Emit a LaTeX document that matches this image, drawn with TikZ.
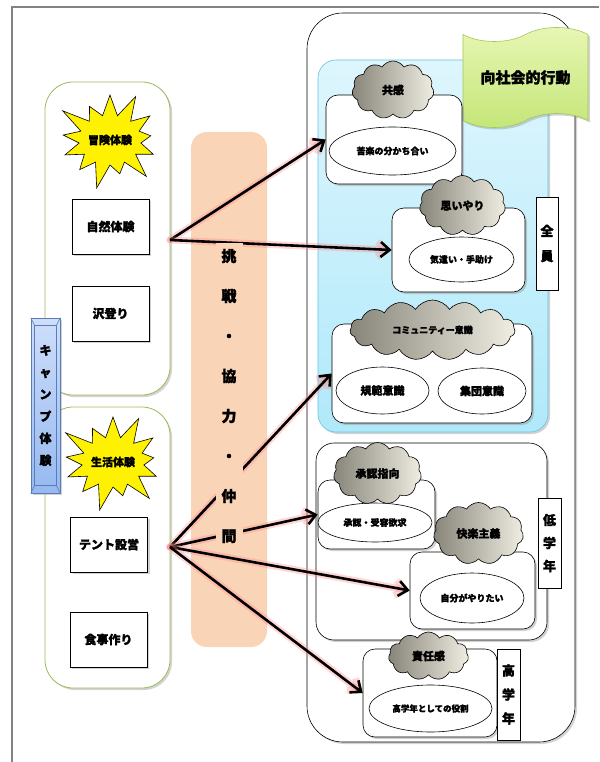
\documentclass[tikz,border=0pt]{standalone}
\usepackage{fontspec}
\newfontfamily\jp{Noto Sans CJK JP}[BoldFeatures={FakeBold=1.6}]
\usetikzlibrary{shapes.geometric, shapes.symbols, arrows.meta, shadows, calc, positioning}

\definecolor{peach}{RGB}{250,212,182}
\definecolor{grpgreen}{RGB}{155,187,89}
\definecolor{skytop}{RGB}{222,246,253}
\definecolor{skybot}{RGB}{176,233,250}
\definecolor{skyedge}{RGB}{100,195,228}
\definecolor{tapetop}{RGB}{232,246,180}
\definecolor{tapebot}{RGB}{196,230,120}
\definecolor{tapeedge}{RGB}{160,200,90}
\definecolor{camptop}{RGB}{205,222,250}
\definecolor{campbot}{RGB}{150,185,240}
\definecolor{campedge}{RGB}{90,125,185}
\definecolor{puffdark}{RGB}{135,133,122}
\definecolor{pufflight}{RGB}{240,238,226}
\definecolor{framegray}{RGB}{130,130,130}

\newcommand{\jpf}[1]{\jp\bfseries\fontsize{#1}{#1}\selectfont}
\newcommand{\jpv}[2]{\jp\bfseries\fontsize{#1}{#2}\selectfont}

\begin{document}
\begin{tikzpicture}[x=1pt, y=-1pt,
    shade/.style={drop shadow={opacity=0.35, shadow xshift=2pt, shadow yshift=-2pt}},
    grp/.style={rectangle, rounded corners=28pt, draw=grpgreen, line width=0.8pt, fill=white, shade, minimum width=125pt},
    act/.style={rectangle, draw, line width=0.8pt, fill=white, shade, minimum width=77pt, minimum height=55pt, font=\jpf{12}},
    burst/.style={starburst, starburst points=13, starburst point height=28pt, draw, line width=0.6pt, fill=yellow, font=\jpf{11}, inner sep=0pt, minimum width=100pt, minimum height=106pt},
    frame/.style={rectangle, rounded corners=12pt, draw, line width=0.6pt, fill=white, shade},
    puff/.style={cloud, cloud puffs=11, cloud puff arc=115, cloud ignores aspect, draw, line width=0.6pt, left color=puffdark, right color=pufflight, inner sep=0pt},
    oval/.style={ellipse, draw, line width=0.6pt, fill=white, inner sep=0pt},
    tag/.style={rectangle, draw, line width=0.6pt, fill=white, align=center, inner sep=0pt},
    link/.style={-{Straight Barb[length=9pt, width=15pt]}, line width=2.6pt, preaction={draw=red!45, line width=7pt, opacity=0.35, line cap=round}}
]
\useasboundingbox (0,0) rectangle (599,762);

% page frame
\draw[framegray, line width=1.5pt] (12,762) -- (12,7) -- (599,7);

% camp activities
\node[grp, minimum height=313pt] (grpA) at (107.5,238.5) {};
\node[grp, minimum height=281pt] (grpB) at (107.5,547.5) {};
\node[burst] (adv) at (110,140) {冒険体験};
\node[burst] (life) at (113,462) {生活体験};
\node[act] (nature) at (110.5,226.5) {自然体験};
\node[act] (stream) at (110.5,313.5) {沢登り};
\node[act] (tent) at (109,544.5) {テント設営};
\node[act] (meal) at (108.5,639.5) {食事作り};

% camp label
\node[rectangle, draw=campedge, line width=0.6pt, top color=camptop, bottom color=campbot, shade,
      minimum width=29pt, minimum height=175pt, inner sep=0pt] (camp) at (45.5,405.5) {};
\draw[campedge, line width=0.5pt] ($(camp.north west)+(4,8)$) rectangle ($(camp.south east)+(-4,-8)$);
\draw[campedge, line width=0.5pt] (camp.north west) -- ++(4,8) (camp.north east) -- ++(-4,8)
    (camp.south west) -- ++(4,-8) (camp.south east) -- ++(-4,-8);
\node[align=center, font=\jpv{12}{22}] (campText) at (camp.center) {キ\\ャ\\ン\\プ\\体\\験};

% middle band
\node[rectangle, rounded corners=16pt, fill=peach, minimum width=76pt, minimum height=515pt] (band) at (229,389.5) {};

% prosocial behaviour
\node[rectangle, rounded corners=36pt, draw, line width=0.6pt, fill=white, shade,
      minimum width=268pt, minimum height=729pt] (social) at (441,377.5) {};
\node[rectangle, rounded corners=18pt, draw=skyedge, line width=0.6pt, top color=skytop, bottom color=skybot, shade,
      minimum width=230pt, minimum height=372pt] (allArea) at (433,246) {};
\node[tape, tape bend height=14pt, draw=tapeedge, line width=0.6pt, top color=tapetop, bottom color=tapebot, shade,
      minimum width=125pt, minimum height=100pt, font=\jpf{15}] (title) at (525.5,77.5) {向社会的行動};
\node[tag, minimum width=22pt, minimum height=93pt, font=\jpv{13}{25}] (allTag) at (547,243.5) {全\\員};

\node[frame, minimum width=136pt, minimum height=89pt] (empBox) at (394,139.5) {};
\node[oval, minimum width=127pt, minimum height=48pt, font=\jpf{9}] (empOval) at (392.5,151) {苦楽の分かち合い};
\node[puff, minimum width=82pt, minimum height=58pt, font=\jpf{11}] (empPuff) at (393,90) {共感};

\node[frame, minimum width=133pt, minimum height=84pt] (careBox) at (458.5,250) {};
\node[oval, minimum width=105pt, minimum height=45pt, font=\jpf{9}] (careOval) at (461.5,259.5) {気遣い・手助け};
\node[puff, minimum width=86pt, minimum height=60pt, font=\jpf{11}] (carePuff) at (462.5,205.5) {思いやり};

\node[frame, minimum width=200pt, minimum height=99pt] (comBox) at (432,373.5) {};
\node[oval, minimum width=93pt, minimum height=47pt, font=\jpf{11}] (normOval) at (382.5,390.5) {規範意識};
\node[oval, minimum width=88pt, minimum height=46pt, font=\jpf{11}] (teamOval) at (482,391) {集団意識};
\node[puff, cloud puffs=15, minimum width=165pt, minimum height=60pt, font=\jpf{9}] (comPuff) at (432.5,330) {コミュニティー意識};

\node[rectangle, rounded corners=18pt, draw, line width=0.6pt, fill=white, shade,
      minimum width=231pt, minimum height=197pt] (lowArea) at (431.5,541.5) {};
\node[tag, minimum width=23pt, minimum height=90pt, font=\jpv{13}{23}] (lowTag) at (549.5,543) {低\\学\\年};

\node[frame, minimum width=117pt, minimum height=69pt] (apprBox) at (376.5,514.5) {};
\node[oval, minimum width=114pt, minimum height=39pt, font=\jpf{9}] (apprOval) at (375,522.5) {承認・受容欲求};
\node[puff, minimum width=88pt, minimum height=62pt, font=\jpf{11}] (apprPuff) at (377.5,473.5) {承認指向};

\node[frame, minimum width=125pt, minimum height=77pt] (joyBox) at (472.5,590.5) {};
\node[oval, minimum width=104pt, minimum height=50pt, font=\jpf{9}] (joyOval) at (472,598) {自分がやりたい};
\node[puff, minimum width=90pt, minimum height=62pt, font=\jpf{11}] (joyPuff) at (478.5,533.5) {快楽主義};

\node[frame, minimum width=134pt, minimum height=88pt] (respBox) at (430,693) {};
\node[tag, minimum width=23pt, minimum height=91pt, font=\jpv{13}{24}] (highTag) at (508.5,694.5) {高\\学\\年};
\node[oval, minimum width=123pt, minimum height=47pt, font=\jpf{8.5}] (respOval) at (430.5,708.5) {高学年としての役割};
\node[puff, minimum width=80pt, minimum height=48pt, font=\jpf{11}] (respPuff) at (428.5,656) {責任感};

% links
\coordinate (fromA) at (170,240);
\coordinate (fromB) at (170,547);
\draw[link] (fromA) -- (empBox.west);
\draw[link] (fromA) -- (careBox.west);
\draw[link] (fromB) -- (comBox.west);
\draw[link] (fromB) -- (apprBox.west);
\draw[link] (fromB) -- (joyBox.west);
\draw[link] (fromB) -- (respBox.west);

% keywords over the band
\node[fill=peach, inner xsep=6pt, inner ysep=6pt, align=center, font=\jpv{15}{40}] (motto) at (229,396) {挑\\戦\\・\\協\\力\\・\\仲\\間};

\end{tikzpicture}
\end{document}
